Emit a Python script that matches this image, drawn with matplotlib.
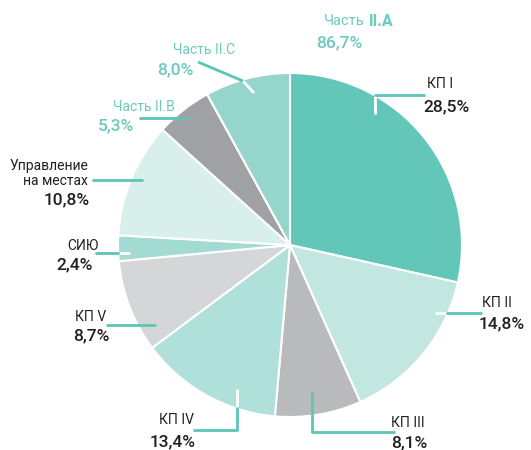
import matplotlib.pyplot as plt

# slices, clockwise from 12 o'clock
labels = ["КП I", "КП II", "КП III", "КП IV", "КП V", "СИЮ",
          "Управление\nна местах", "Часть II.B", "Часть II.C"]
values = [28.5, 14.8, 8.1, 13.4, 8.7, 2.4, 10.8, 5.3, 8.0]
pct_text = ["28,5%", "14,8%", "8,1%", "13,4%", "8,7%", "2,4%", "10,8%", "5,3%", "8,0%"]
colors = ["#62c6b9", "#c2e7e0", "#b9babc", "#b0e0da", "#d5d6d8",
          "#a3dbd2", "#d8efeb", "#a0a1a5", "#95d5cb"]
part_a_title = "86,7%"

TEAL = "#5cc5b5"
TEAL_TXT = "#6ccabd"
DARK = "#231f20"
H = 450

plt.rcParams['font.family'] = ['Roboto', 'DejaVu Sans']

fig = plt.figure(figsize=(5.31, 4.5), dpi=100)
ax = fig.add_axes([0, 0, 1, 1])

ax.pie(values, colors=colors, startangle=90, counterclock=False,
       center=(290, H - 245), radius=172,
       wedgeprops=dict(edgecolor="white", linewidth=1.5))
ax.set_xlim(0, 531)
ax.set_ylim(0, H)
ax.set_aspect("equal")
ax.axis("off")


def seg(pts, color):
    xs = [p[0] for p in pts]
    ys = [H - p[1] for p in pts]
    ax.plot(xs, ys, color=color, lw=2, solid_capstyle="butt", zorder=3)


def txt(x, y, s, size, color=DARK, weight="normal", ha="left"):
    ax.text(x, H - y, s, fontsize=size, color=color, fontweight=weight,
            ha=ha, va="center", zorder=4)


# leader lines (pixel coords, y downwards): part inside the pie, part outside
seg([(375, 114), (375, 96)], "white")
seg([(375, 96), (375, 95), (425, 95)], TEAL)
seg([(435, 313), (446, 313)], "white")
seg([(446, 313), (482, 313)], TEAL)
seg([(312, 392), (312, 432), (395, 432)], TEAL)
seg([(237, 389), (237, 407)], "white")
seg([(237, 407), (237, 430), (193, 430)], TEAL)
seg([(156, 325), (106, 325)], TEAL)
seg([(130, 253), (119, 253)], "white")
seg([(119, 253), (95, 253)], TEAL)
seg([(143, 180), (92, 180)], TEAL)
seg([(189, 118), (139, 118)], TEAL)
seg([(254, 93), (243, 81)], "white")
seg([(243, 81), (198, 62)], TEAL)

# dark labels
lab_size = 10
pct_size = 12.5
bw = "medium"
txt(427, 84, labels[0], lab_size)
txt(423, 107, pct_text[0], pct_size, weight=bw)
txt(482, 303, labels[1], lab_size)
txt(479, 324, pct_text[1], pct_size, weight=bw)
txt(391, 423, labels[2], lab_size)
txt(391, 443, pct_text[2], pct_size, weight=bw)
txt(159, 420, labels[3], lab_size)
txt(150, 442, pct_text[3], pct_size, weight=bw)
txt(106, 317, labels[4], lab_size, ha="right")
txt(109, 336, pct_text[4], pct_size, weight=bw, ha="right")
txt(99, 246, labels[5], lab_size, ha="right")
txt(93, 265, pct_text[5], pct_size, weight=bw, ha="right")
txt(88, 166, "Управление", lab_size, ha="right")
txt(88, 181, "на местах", lab_size, ha="right")
txt(90, 200, pct_text[6], pct_size, weight=bw, ha="right")

# part II labels in teal
txt(175, 107, labels[7], lab_size, color=TEAL_TXT, ha="right")
txt(134, 126, pct_text[7], pct_size, color=TEAL_TXT, weight=bw, ha="right")
txt(235, 50, labels[8], lab_size, color=TEAL_TXT, ha="right")
txt(193, 70, pct_text[8], pct_size, color=TEAL_TXT, weight=bw, ha="right")
ax.text(365, H - 21, "Часть", fontsize=lab_size + 0.5, color=TEAL_TXT,
        ha="right", va="center")
ax.text(369, H - 21, "II.A", fontsize=lab_size + 1.5, color=TEAL_TXT,
        fontweight="bold", ha="left", va="center")
txt(316, 43, part_a_title, pct_size, color=TEAL_TXT, weight=bw)

fig.savefig("out.png", dpi=100)
